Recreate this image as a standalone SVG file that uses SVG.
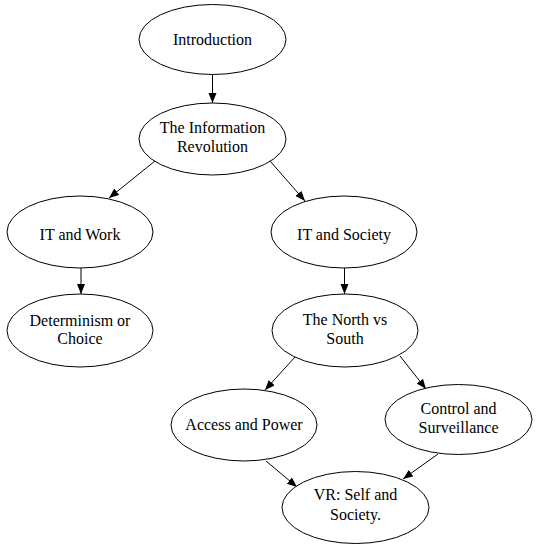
<svg xmlns="http://www.w3.org/2000/svg" width="540" height="550" viewBox="0 0 540 550">
<style>
.n ellipse{fill:#fff;stroke:#000;stroke-width:1}
.n text{font-family:"Liberation Serif","DejaVu Serif","Noto Serif",serif;font-size:16px;fill:#000;text-anchor:middle}
.c line{stroke:#000;stroke-width:1;marker-end:url(#ah)}
</style>
<defs>
<marker id="ah" markerUnits="userSpaceOnUse" markerWidth="11" markerHeight="9" refX="10" refY="4" orient="auto"><path d="M0,0 L10,4 L0,8 z" fill="#000"/></marker>
</defs>
<rect width="540" height="550" fill="#fff"/>
<g id="connectors" class="c">
<line x1="212.5" y1="75" x2="212.5" y2="103"/>
<line x1="155" y1="161" x2="109" y2="198"/>
<line x1="270" y1="161" x2="305" y2="201"/>
<line x1="81" y1="268" x2="81" y2="294"/>
<line x1="344.5" y1="268" x2="344.5" y2="294"/>
<line x1="295" y1="357" x2="265" y2="390"/>
<line x1="400" y1="356" x2="426" y2="389"/>
<line x1="266" y1="461" x2="297" y2="487"/>
<line x1="438" y1="454" x2="403" y2="479"/>
</g>
<g id="n-introduction" class="n"><ellipse cx="212.5" cy="39.5" rx="73.5" ry="35"/><text x="212.5" y="45">Introduction</text></g>
<g id="n-info-revolution" class="n"><ellipse cx="212.5" cy="139" rx="73.5" ry="36"/><text x="212.5" y="133">The Information</text><text x="212.5" y="152">Revolution</text></g>
<g id="n-it-work" class="n"><ellipse cx="80" cy="232" rx="73" ry="36"/><text x="80" y="240">IT and Work</text></g>
<g id="n-it-society" class="n"><ellipse cx="344" cy="232" rx="73" ry="36"/><text x="344" y="240">IT and Society</text></g>
<g id="n-determinism" class="n"><ellipse cx="80" cy="330.5" rx="73" ry="36.5"/><text x="80" y="326">Determinism or</text><text x="80" y="344">Choice</text></g>
<g id="n-north-south" class="n"><ellipse cx="345" cy="330.5" rx="73" ry="36.5"/><text x="345" y="325">The North vs</text><text x="345" y="344">South</text></g>
<g id="n-access-power" class="n"><ellipse cx="244" cy="425" rx="73" ry="36"/><text x="244" y="430">Access and Power</text></g>
<g id="n-control" class="n"><ellipse cx="458.5" cy="419.5" rx="73.5" ry="35"/><text x="458.5" y="414">Control and</text><text x="458.5" y="433">Surveillance</text></g>
<g id="n-vr" class="n"><ellipse cx="355.5" cy="507.5" rx="73.5" ry="36"/><text x="355.5" y="500">VR: Self and</text><text x="355.5" y="520">Society.</text></g>
</svg>
